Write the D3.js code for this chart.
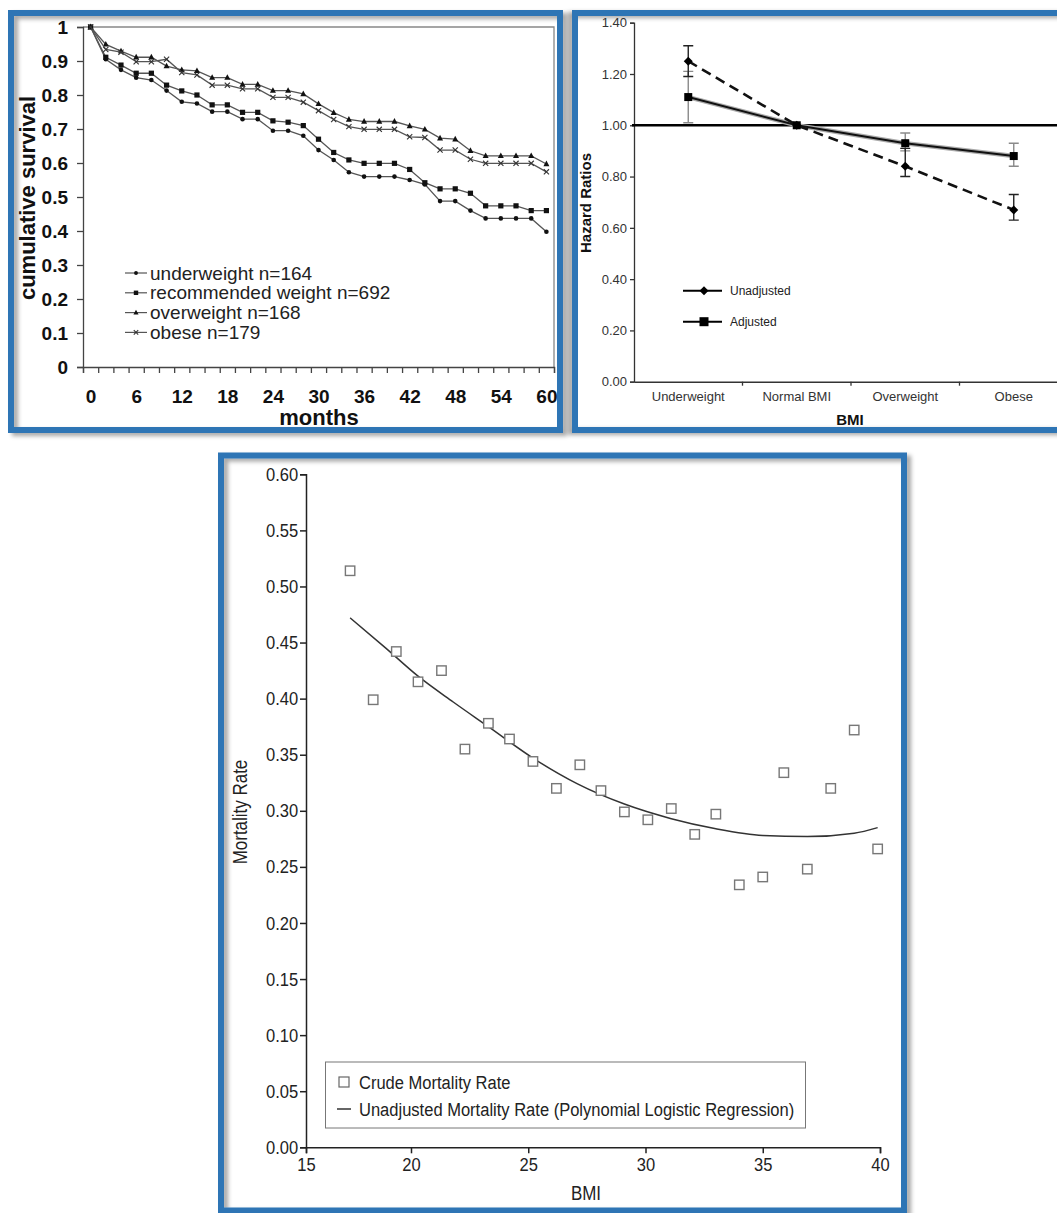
<!DOCTYPE html>
<html>
<head>
<meta charset="utf-8">
<script src="https://cdn.jsdelivr.net/npm/d3@7"></script>
<style>
  body { margin: 0; background: #fff; }
  svg { display: block; }
</style>
</head>
<body>
<div id="chart"></div>
<script>
// ---- panel A: survival by weight group (Kaplan-Meier style) ----
const months = [0, 2, 4, 6, 8, 10, 12, 14, 16, 18, 20, 22, 24, 26, 28, 30,
  32, 34, 36, 38, 40, 42, 44, 46, 48, 50, 52, 54, 56, 58, 60];
const monthLabels = [0, 6, 12, 18, 24, 30, 36, 42, 48, 54, 60];
const survivalTicks = [0, 0.1, 0.2, 0.3, 0.4, 0.5, 0.6, 0.7, 0.8, 0.9, 1];

const underweight = [1, 0.905, 0.874, 0.851, 0.844, 0.813, 0.780, 0.775, 0.751, 0.751, 0.729,
  0.729, 0.695, 0.695, 0.680, 0.638, 0.609, 0.573, 0.560, 0.560, 0.560, 0.550, 0.537, 0.488,
  0.488, 0.460, 0.437, 0.437, 0.437, 0.437, 0.398];
const recommended = [1, 0.911, 0.888, 0.864, 0.864, 0.829, 0.812, 0.800, 0.771, 0.771, 0.749,
  0.749, 0.724, 0.720, 0.710, 0.670, 0.631, 0.609, 0.599, 0.599, 0.599, 0.581, 0.542, 0.524,
  0.524, 0.511, 0.474, 0.474, 0.474, 0.460, 0.460];
const overweight = [1, 0.949, 0.929, 0.911, 0.911, 0.885, 0.874, 0.871, 0.851, 0.851, 0.831,
  0.831, 0.813, 0.813, 0.803, 0.774, 0.748, 0.728, 0.722, 0.722, 0.722, 0.709, 0.699, 0.673,
  0.670, 0.636, 0.621, 0.621, 0.621, 0.621, 0.597];
const obese = [1, 0.934, 0.926, 0.898, 0.898, 0.905, 0.866, 0.859, 0.829, 0.829, 0.818,
  0.818, 0.793, 0.793, 0.779, 0.754, 0.728, 0.707, 0.699, 0.699, 0.699, 0.677, 0.675, 0.638,
  0.638, 0.611, 0.599, 0.599, 0.599, 0.599, 0.574];
const survivalLegend = ['underweight n=164', 'recommended weight n=692', 'overweight n=168', 'obese n=179'];

// ---- panel B: hazard ratios by BMI group ----
const bmiGroups = ['Underweight', 'Normal BMI', 'Overweight', 'Obese'];
const hrTicks = [0, 0.2, 0.4, 0.6, 0.8, 1.0, 1.2, 1.4];
const unadjusted = [1.25, 1.00, 0.84, 0.67];
const unadjustedLow = [1.19, 1.00, 0.80, 0.63];
const unadjustedHigh = [1.31, 1.00, 0.91, 0.73];
const adjusted = [1.11, 1.00, 0.93, 0.88];
const adjustedLow = [1.01, 1.00, 0.90, 0.84];
const adjustedHigh = [1.21, 1.00, 0.97, 0.93];

// ---- panel C: mortality rate vs BMI ----
const bmiTicks = [15, 20, 25, 30, 35, 40];
const rateTicks = [0, 0.05, 0.10, 0.15, 0.20, 0.25, 0.30, 0.35, 0.40, 0.45, 0.50, 0.55, 0.60];
const crudeBmi = [17.1, 18.2, 19.3, 20.3, 21.3, 22.3, 23.3, 24.2, 25.2, 26.2, 27.2, 28.1,
  29.1, 30.1, 31.1, 32.1, 33.0, 34.0, 35.0, 35.9, 36.9, 37.9, 38.9, 39.9];
const crudeRate = [0.514, 0.399, 0.442, 0.415, 0.425, 0.355, 0.378, 0.364, 0.344, 0.320, 0.341, 0.318,
  0.299, 0.292, 0.302, 0.279, 0.297, 0.234, 0.241, 0.334, 0.248, 0.320, 0.372, 0.266];
const fitBmi = [17.1, 18.8, 20.3, 21.8, 23.3, 25.2, 27.1, 29.1, 31.1, 33.0, 35.0, 36.9, 38.9, 39.9];
const fitRate = [0.472, 0.445, 0.420, 0.397, 0.375, 0.347, 0.324, 0.306, 0.293, 0.284, 0.278, 0.277, 0.280, 0.285];

const W = 1057, H = 1213;
const frameBlue = '#2f74b5';
const arial = "'Liberation Sans', Arial, Helvetica, sans-serif";
const squeeze = 0.87; // panel C uses a condensed face

const svg = d3.select('#chart').append('svg')
  .attr('width', W)
  .attr('height', H);

const defs = svg.append('defs');
defs.append('filter').attr('id', 'shadowBR')
  .attr('x', '-5%').attr('y', '-5%').attr('width', '110%').attr('height', '110%')
  .append('feDropShadow')
  .attr('dx', 4).attr('dy', 3).attr('stdDeviation', 2)
  .attr('flood-color', '#000').attr('flood-opacity', 0.35);
defs.append('filter').attr('id', 'shadowL')
  .attr('x', '-5%').attr('y', '-5%').attr('width', '110%').attr('height', '110%')
  .append('feDropShadow')
  .attr('dx', -4).attr('dy', 2).attr('stdDeviation', 2)
  .attr('flood-color', '#000').attr('flood-opacity', 0.35);

function frame(x, y, w, h, shadow) {
  svg.append('rect')
    .attr('x', x).attr('y', y)
    .attr('width', w).attr('height', h)
    .attr('fill', 'none')
    .attr('stroke', frameBlue)
    .attr('stroke-width', 6)
    .attr('filter', `url(#${shadow})`);
}

function styleAxis(g, color, width) {
  g.select('.domain').attr('stroke', color).attr('stroke-width', width);
  g.selectAll('.tick line').attr('stroke', color).attr('stroke-width', width);
}

// condensed text helper: anchored at (x, y), squeezed horizontally
function narrowText(g, x, y, str, size, anchor, rotate) {
  const t = g.append('text')
    .attr('transform', `translate(${x},${y})${rotate ? ' rotate(-90)' : ''} scale(${squeeze},1)`)
    .attr('text-anchor', anchor || 'start')
    .attr('font-family', arial)
    .attr('font-size', size)
    .attr('fill', '#222')
    .text(str);
  return t;
}

// =================== PANEL A ===================
frame(11, 13, 549, 417, 'shadowBR');

const pA = svg.append('g');
const xA = d3.scaleLinear().domain([-1, 61]).range([83, 554]);
const yA = d3.scaleLinear().domain([0, 1]).range([367, 27]);

// plot frame (top and right)
pA.append('path')
  .attr('d', `M${xA(-1)},${yA(1)}H${xA(61)}V${yA(0)}`)
  .attr('fill', 'none')
  .attr('stroke', '#888')
  .attr('stroke-width', 1.3);

const yAxisA = pA.append('g')
  .attr('transform', `translate(${xA(-1)},0)`)
  .call(d3.axisLeft(yA).tickValues(survivalTicks).tickSize(6).tickPadding(9).tickFormat(d3.format('~g')));
styleAxis(yAxisA, '#444', 1.3);
yAxisA.selectAll('text')
  .attr('font-family', arial)
  .attr('font-weight', 'bold')
  .attr('font-size', 19)
  .attr('fill', '#111');

// minor ticks sit between the 2-month categories
const xTickMonths = d3.range(-1, 62, 2);
const xAxisA = pA.append('g')
  .attr('transform', `translate(0,${yA(0)})`)
  .call(d3.axisBottom(xA).tickValues(xTickMonths).tickSize(6).tickFormat(''));
styleAxis(xAxisA, '#444', 1.3);

const xLabA = pA.append('g')
  .attr('transform', `translate(0,${yA(0)})`)
  .call(d3.axisBottom(xA).tickValues(monthLabels).tickSize(0));
xLabA.select('.domain').remove();
xLabA.selectAll('text')
  .attr('y', 36).attr('dy', 0)
  .attr('font-family', arial)
  .attr('font-weight', 'bold')
  .attr('font-size', 19)
  .attr('fill', '#111');

pA.append('text')
  .attr('x', 319).attr('y', 425)
  .attr('text-anchor', 'middle')
  .attr('font-family', arial)
  .attr('font-weight', 'bold')
  .attr('font-size', 22)
  .attr('fill', '#111')
  .text('months');

pA.append('text')
  .attr('transform', 'translate(35,198) rotate(-90)')
  .attr('text-anchor', 'middle')
  .attr('font-family', arial)
  .attr('font-weight', 'bold')
  .attr('font-size', 22)
  .attr('fill', '#111')
  .text('cumulative survival');

function marker(g, kind, x, y, scale) {
  const s = scale || 1;
  if (kind === 'dot') {
    g.append('circle').attr('cx', x).attr('cy', y).attr('r', 2.3 * s).attr('fill', '#111');
  } else if (kind === 'square') {
    g.append('rect').attr('x', x - 2.6 * s).attr('y', y - 2.6 * s)
      .attr('width', 5.2 * s).attr('height', 5.2 * s).attr('fill', '#111');
  } else if (kind === 'triangle') {
    g.append('path')
      .attr('d', `M${x},${y - 3.4 * s}L${x + 3 * s},${y + 2.2 * s}L${x - 3 * s},${y + 2.2 * s}Z`)
      .attr('fill', '#111');
  } else if (kind === 'cross') {
    const r = 2.6 * s;
    g.append('path')
      .attr('d', `M${x - r},${y - r}L${x + r},${y + r}M${x - r},${y + r}L${x + r},${y - r}`)
      .attr('stroke', '#333').attr('stroke-width', 1.1);
  }
}

const seriesA = [
  { values: underweight, kind: 'dot' },
  { values: recommended, kind: 'square' },
  { values: overweight, kind: 'triangle' },
  { values: obese, kind: 'cross' }
];

const lineA = d3.line()
  .x((d, i) => xA(months[i]))
  .y(d => yA(d));

seriesA.forEach(s => {
  pA.append('path')
    .datum(s.values)
    .attr('d', lineA)
    .attr('fill', 'none')
    .attr('stroke', '#555')
    .attr('stroke-width', 1.3);
  s.values.forEach((v, i) => marker(pA, s.kind, xA(months[i]), yA(v)));
});

// legend
survivalLegend.forEach((label, i) => {
  const ly = 273 + i * 19.8;
  pA.append('line')
    .attr('x1', 125).attr('x2', 147)
    .attr('y1', ly).attr('y2', ly)
    .attr('stroke', '#555').attr('stroke-width', 1.2);
  marker(pA, seriesA[i].kind, 136, ly, 0.85);
  pA.append('text')
    .attr('x', 150).attr('y', ly)
    .attr('dy', '0.35em')
    .attr('font-family', arial)
    .attr('font-size', 19)
    .attr('fill', '#222')
    .text(label);
});

// =================== PANEL B ===================
frame(575, 13, 500, 417, 'shadowL');

const pB = svg.append('g');
const xB = d3.scaleBand().domain(bmiGroups).range([634, 1068]);
const yB = d3.scaleLinear().domain([0, 1.4]).range([381.7, 22.7]);
const cx = d => xB(d) + xB.bandwidth() / 2;

const yAxisB = pB.append('g')
  .attr('transform', 'translate(634,0)')
  .call(d3.axisLeft(yB).tickValues(hrTicks).tickSize(4).tickPadding(3).tickFormat(d3.format('.2f')));
styleAxis(yAxisB, '#333', 1.3);
yAxisB.selectAll('text')
  .attr('font-family', arial)
  .attr('font-size', 13)
  .attr('fill', '#333');

const xAxisB = pB.append('g')
  .attr('transform', `translate(0,${yB(0)})`)
  .call(d3.axisBottom(xB).tickSize(0).tickPadding(10));
styleAxis(xAxisB, '#333', 1.6);
xAxisB.selectAll('text')
  .attr('font-family', arial)
  .attr('font-size', 13)
  .attr('fill', '#333');
// category boundary ticks
bmiGroups.slice(1).forEach(g => {
  xAxisB.append('line')
    .attr('x1', xB(g)).attr('x2', xB(g))
    .attr('y1', 0).attr('y2', 4)
    .attr('stroke', '#333').attr('stroke-width', 1.3);
});

pB.append('text')
  .attr('x', 850).attr('y', 425)
  .attr('text-anchor', 'middle')
  .attr('font-family', arial)
  .attr('font-weight', 'bold')
  .attr('font-size', 15)
  .attr('fill', '#111')
  .text('BMI');

pB.append('text')
  .attr('transform', 'translate(591,203) rotate(-90)')
  .attr('text-anchor', 'middle')
  .attr('font-family', arial)
  .attr('font-weight', 'bold')
  .attr('font-size', 15)
  .attr('fill', '#111')
  .text('Hazard Ratios');

// reference line at HR = 1
pB.append('line')
  .attr('x1', 632).attr('x2', W)
  .attr('y1', yB(1)).attr('y2', yB(1))
  .attr('stroke', '#000').attr('stroke-width', 2.6);

function errorBars(lo, hi, color) {
  bmiGroups.forEach((g, i) => {
    if (lo[i] === hi[i]) return;
    const x = cx(g);
    pB.append('path')
      .attr('d', `M${x},${yB(lo[i])}V${yB(hi[i])}M${x - 5},${yB(lo[i])}H${x + 5}M${x - 5},${yB(hi[i])}H${x + 5}`)
      .attr('fill', 'none')
      .attr('stroke', color)
      .attr('stroke-width', 1.4);
  });
}
errorBars(adjustedLow, adjustedHigh, '#8a8a8a');
errorBars(unadjustedLow, unadjustedHigh, '#222');

const lineB = d3.line()
  .x((d, i) => cx(bmiGroups[i]))
  .y(d => yB(d));

// adjusted: solid with soft grey halo
pB.append('path').datum(adjusted).attr('d', lineB)
  .attr('fill', 'none').attr('stroke', '#aaa').attr('stroke-width', 4.5);
pB.append('path').datum(adjusted).attr('d', lineB)
  .attr('fill', 'none').attr('stroke', '#111').attr('stroke-width', 2);
// unadjusted: dashed
pB.append('path').datum(unadjusted).attr('d', lineB)
  .attr('fill', 'none').attr('stroke', '#111').attr('stroke-width', 2.6)
  .attr('stroke-dasharray', '10,6');

function diamond(g, x, y, r) {
  g.append('path')
    .attr('d', `M${x},${y - r}L${x + r},${y}L${x},${y + r}L${x - r},${y}Z`)
    .attr('fill', '#000');
}
function squareB(g, x, y, s) {
  g.append('rect')
    .attr('x', x - s / 2).attr('y', y - s / 2)
    .attr('width', s).attr('height', s)
    .attr('fill', '#000');
}

unadjusted.forEach((v, i) => diamond(pB, cx(bmiGroups[i]), yB(v), 4.5));
adjusted.forEach((v, i) => squareB(pB, cx(bmiGroups[i]), yB(v), 8));

// legend
[['Unadjusted', 'diamond', 290.7], ['Adjusted', 'square', 321.7]].forEach(([label, kind, ly]) => {
  pB.append('line')
    .attr('x1', 683).attr('x2', 722)
    .attr('y1', ly).attr('y2', ly)
    .attr('stroke', '#000').attr('stroke-width', 2);
  if (kind === 'diamond') diamond(pB, 704, ly, 4.5);
  else squareB(pB, 704, ly, 9);
  pB.append('text')
    .attr('x', 730).attr('y', ly)
    .attr('dy', '0.35em')
    .attr('font-family', arial)
    .attr('font-size', 12)
    .attr('fill', '#222')
    .text(label);
});

// =================== PANEL C ===================
frame(221, 455.5, 683, 755, 'shadowBR');

const pC = svg.append('g');
// the printed axis has a slightly shorter 15-20 interval
const xC = d3.scaleLinear().domain([15, 20, 40]).range([306, 411, 880]);
const yC = d3.scaleLinear().domain([0, 0.6]).range([1147.3, 474.3]);

const yAxisC = pC.append('g')
  .attr('transform', 'translate(306,0)')
  .call(d3.axisLeft(yC).tickValues(rateTicks).tickSize(6).tickPadding(3).tickFormat(d3.format('.2f')));
styleAxis(yAxisC, '#222', 1.5);
yAxisC.selectAll('text')
  .attr('font-family', arial)
  .attr('font-size', 19)
  .attr('fill', '#222')
  .attr('transform', `scale(${squeeze},1)`);

const xAxisC = pC.append('g')
  .attr('transform', `translate(0,${yC(0)})`)
  .call(d3.axisBottom(xC).tickValues(bmiTicks).tickSize(6).tickPadding(4).tickFormat(d3.format('d')));
styleAxis(xAxisC, '#222', 1.5);
xAxisC.selectAll('text')
  .attr('font-family', arial)
  .attr('font-size', 19)
  .attr('fill', '#222')
  .attr('transform', `scale(${squeeze},1)`);

narrowText(pC, 586, 1200, 'BMI', 19.5, 'middle');
narrowText(pC, 247, 812, 'Mortality Rate', 19.5, 'middle', true);

const fitLine = d3.line()
  .x((d, i) => xC(fitBmi[i]))
  .y(d => yC(d))
  .curve(d3.curveMonotoneX);

pC.append('path')
  .datum(fitRate)
  .attr('d', fitLine)
  .attr('fill', 'none')
  .attr('stroke', '#333')
  .attr('stroke-width', 1.5);

pC.selectAll('rect.crude')
  .data(crudeRate)
  .enter()
  .append('rect')
  .attr('class', 'crude')
  .attr('x', (d, i) => xC(crudeBmi[i]) - 4.7)
  .attr('y', d => yC(d) - 4.7)
  .attr('width', 9.4)
  .attr('height', 9.4)
  .attr('fill', '#fff')
  .attr('stroke', '#777')
  .attr('stroke-width', 1.4);

// legend box
pC.append('rect')
  .attr('x', 325.5).attr('y', 1062)
  .attr('width', 480).attr('height', 66)
  .attr('fill', '#fff')
  .attr('stroke', '#777')
  .attr('stroke-width', 1);
pC.append('rect')
  .attr('x', 339).attr('y', 1077)
  .attr('width', 10).attr('height', 10)
  .attr('fill', '#fff')
  .attr('stroke', '#666')
  .attr('stroke-width', 1.2);
narrowText(pC, 359, 1082, 'Crude Mortality Rate', 19).attr('dy', '0.35em');
pC.append('line')
  .attr('x1', 337).attr('x2', 351)
  .attr('y1', 1109).attr('y2', 1109)
  .attr('stroke', '#333')
  .attr('stroke-width', 1.5);
narrowText(pC, 359, 1109, 'Unadjusted Mortality Rate (Polynomial Logistic Regression)', 19).attr('dy', '0.35em');
</script>
</body>
</html>
